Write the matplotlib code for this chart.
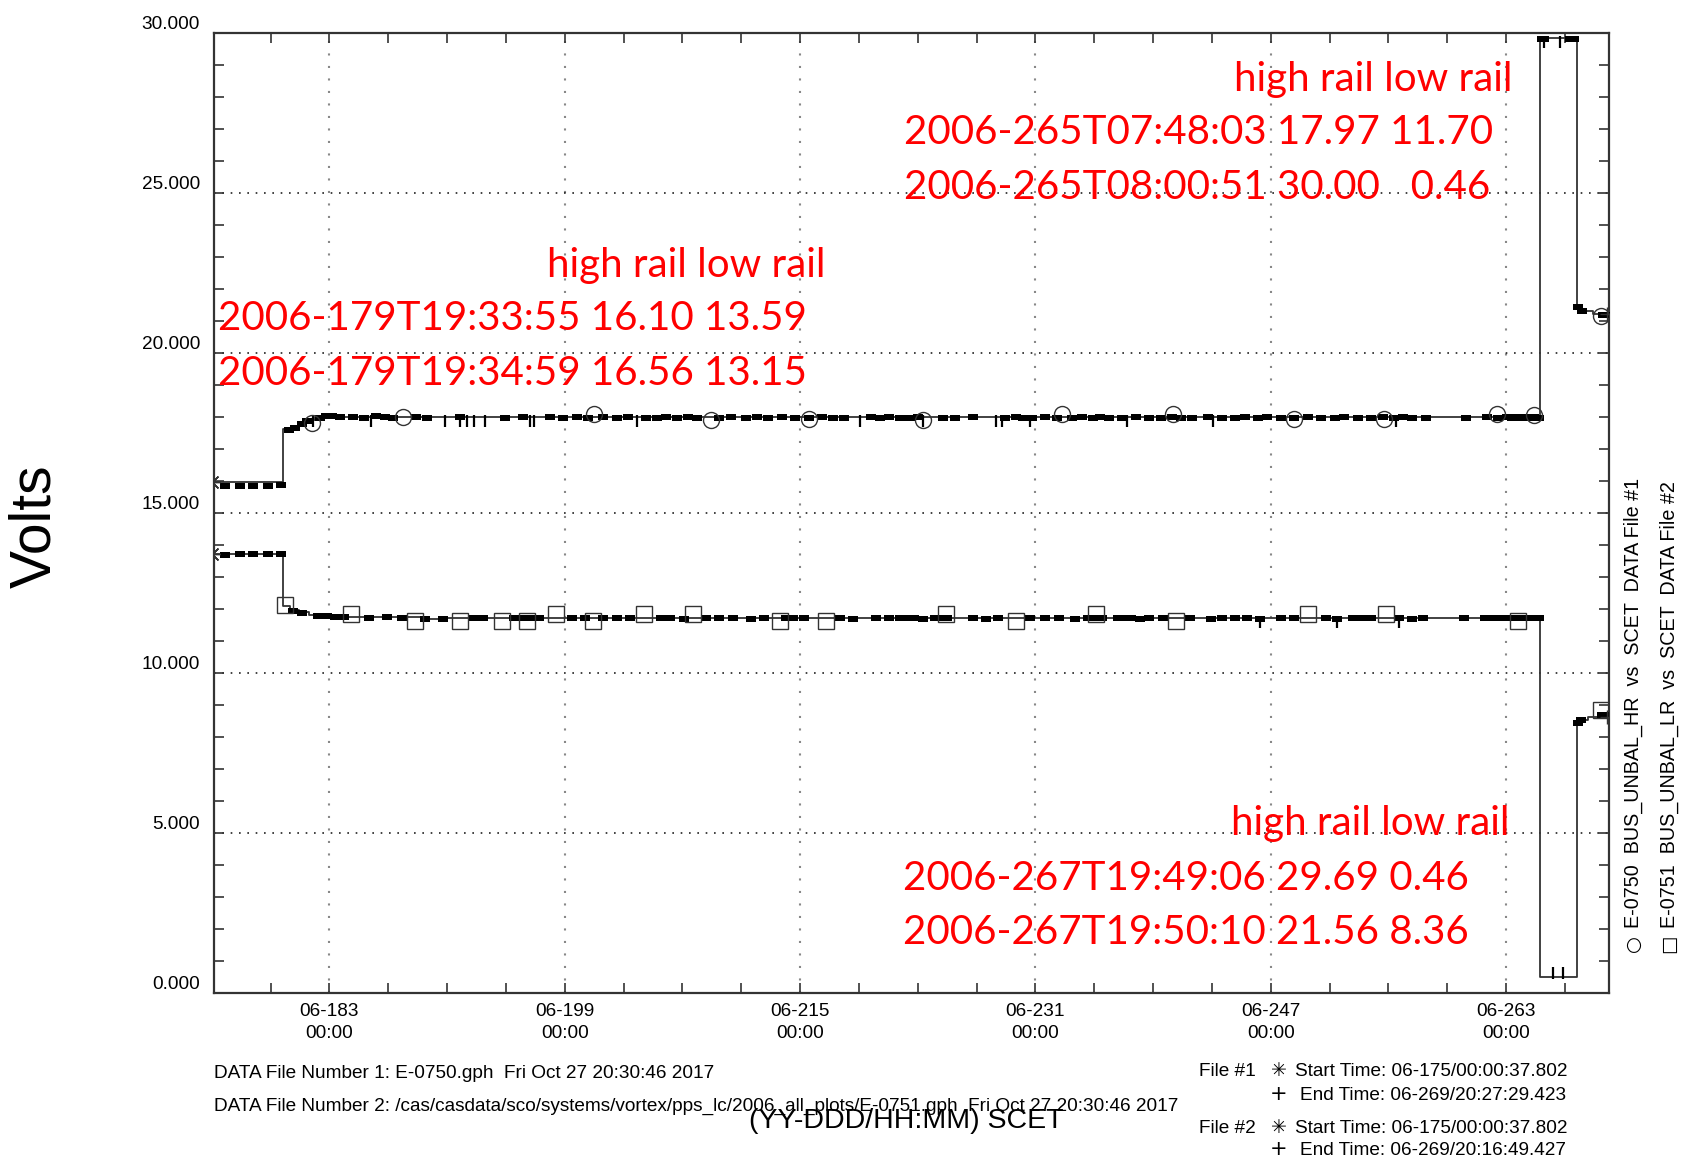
import matplotlib
matplotlib.use('Agg')
import matplotlib.pyplot as plt
from matplotlib.ticker import FixedLocator

# ---------------- data ----------------
x_tick_days = [183, 199, 215, 231, 247, 263]
x_tick_labels = ['06-183\n00:00', '06-199\n00:00', '06-215\n00:00',
                 '06-231\n00:00', '06-247\n00:00', '06-263\n00:00']
y_tick_vals = [0, 5, 10, 15, 20, 25, 30]
y_tick_labels = ['0.000', '5.000', '10.000', '15.000', '20.000', '25.000', '30.000']

# high rail (E-0750 BUS_UNBAL_HR) step line break points
hr_line_days = [175.00, 179.81, 180.40, 180.95, 181.45, 182.00, 265.325, 267.826, 268.10, 268.90, 269.85]
hr_line_volts = [15.96, 17.62, 17.72, 17.82, 17.92, 18.00, 29.85, 21.48, 21.32, 21.22, 21.22]

# high rail sample dashes
hr_dash_days = [175.90, 176.90, 177.80, 178.80, 179.70,
                180.22, 180.68, 181.13, 181.50,
                182.35, 182.74, 183.16, 183.71, 184.62, 185.38, 186.14, 186.75, 187.35, 188.87,
                189.63, 191.90, 194.94, 196.15, 197.98, 198.90, 199.80, 200.55, 201.62, 202.53,
                203.29, 204.50, 205.26, 205.87, 206.63, 207.38, 207.99, 209.51, 210.27, 211.33,
                212.09, 212.85, 213.76, 214.67, 215.58, 216.49, 217.25, 218.00, 219.83, 220.43,
                221.04, 221.80, 222.44, 223.05, 224.74, 225.51, 226.75, 228.90, 229.67, 230.13,
                230.75, 231.67, 232.44, 233.52, 234.14, 234.90, 235.37, 235.98, 236.91, 237.83,
                238.75, 239.52, 240.29, 240.91, 241.68, 242.76, 243.68, 244.60, 245.22, 246.14,
                246.76, 247.68, 248.60, 249.53, 250.45, 251.38, 251.99, 252.92, 253.84, 254.61,
                255.38, 256.00, 256.61, 257.53, 260.30, 261.69, 262.46, 263.08, 263.40, 263.69,
                264.00, 264.31, 264.60, 264.92, 265.23,
                265.45, 265.58, 267.35, 267.50, 267.65,
                267.88, 268.16, 269.60, 269.75]
hr_dash_volts = [15.84, 15.84, 15.84, 15.84, 15.86,
                 17.60, 17.66, 17.78, 17.88,
                 17.98, 18.02, 18.02, 18.00, 18.00, 17.98, 18.02, 18.00, 17.98, 18.00,
                 17.98, 18.00, 17.98, 18.00, 18.00, 17.98, 18.00, 17.98, 18.00, 17.98,
                 18.00, 17.98, 17.98, 18.00, 17.98, 18.00, 17.98, 17.98, 18.00, 17.98,
                 18.00, 17.98, 18.00, 17.98, 17.98, 18.00, 17.98, 17.98, 18.00, 17.98,
                 18.00, 17.98, 17.98, 18.00, 17.98, 17.98, 18.00, 17.98, 18.00, 17.98,
                 17.98, 18.00, 17.98, 17.98, 18.00, 17.98, 18.00, 17.98, 17.98, 18.00,
                 17.98, 17.98, 18.00, 17.98, 17.98, 18.00, 17.98, 17.98, 18.00, 17.98,
                 18.00, 17.98, 17.98, 18.00, 17.98, 17.98, 18.00, 17.98, 17.98, 18.00,
                 17.98, 18.00, 17.98, 17.98, 17.98, 18.00, 17.98, 18.00, 17.98, 18.00,
                 17.98, 18.00, 17.98, 18.00, 17.98,
                 29.82, 29.82, 29.80, 29.82, 29.82,
                 21.45, 21.30, 21.20, 21.20]

# high rail vertical tick samples
hr_tick_days = [181.89, 185.84, 190.84, 191.90, 192.36, 192.82, 193.57, 196.61, 196.91,
                203.89, 219.07, 223.36, 228.29, 228.75, 230.60, 237.21, 243.06, 255.53,
                265.60, 266.70]
hr_tick_volts = [17.86, 17.86, 17.86, 17.86, 17.86, 17.86, 17.86, 17.86, 17.86,
                 17.86, 17.86, 17.86, 17.86, 17.86, 17.86, 17.86, 17.86, 17.86,
                 29.72, 29.72]

# high rail open-circle symbols
hr_sym_days = [181.78, 187.98, 200.96, 208.91, 215.62, 223.35, 232.83, 240.34, 248.58,
               254.71, 262.37, 264.92, 269.44]
hr_sym_volts = [17.80, 18.00, 18.10, 17.92, 17.95, 17.92, 18.08, 18.08, 17.93,
                17.93, 18.08, 18.06, 21.15]

# low rail (E-0751 BUS_UNBAL_LR) step line break points
lr_line_days = [175.00, 179.81, 180.35, 180.90, 181.60, 182.40, 189.60, 190.80, 265.325,
                267.826, 268.05, 268.60, 269.84]
lr_line_volts = [13.73, 12.10, 11.98, 11.90, 11.82, 11.76, 11.68, 11.72, 0.50,
                 8.36, 8.52, 8.62, 8.62]

# low rail sample dashes
lr_dash_days = [175.90, 176.90, 177.80, 178.80, 179.70,
                180.52, 181.13, 182.20, 182.50, 182.80, 183.41, 184.00, 185.68, 186.90, 187.96,
                189.48, 190.69, 192.82, 193.42, 195.55, 195.90, 196.30, 196.70, 197.22, 199.49,
                200.40, 201.62, 202.53, 203.44, 205.56, 206.17, 207.08, 208.60, 209.51, 210.42,
                211.63, 212.54, 214.06, 214.50, 215.27, 217.70, 218.61, 220.13, 221.04, 221.80,
                222.13, 222.74, 223.36, 224.20, 224.60, 225.00, 226.75, 227.67, 228.44, 230.60,
                231.67, 232.60, 233.67, 234.60, 235.06, 235.50, 236.60, 237.00, 237.50, 238.10,
                238.75, 239.68, 241.52, 242.91, 243.68, 244.60, 245.37, 246.30, 247.68, 248.60,
                250.76, 251.53, 252.61, 253.20, 253.84, 255.69, 256.61, 257.38, 260.15, 261.54,
                262.15, 262.60, 263.00, 263.40, 263.80, 264.20, 264.60, 265.00, 265.23,
                267.92, 268.10, 269.50, 269.80]
lr_dash_volts = [13.68, 13.72, 13.72, 13.72, 13.72,
                 11.95, 11.88, 11.78, 11.78, 11.78, 11.74, 11.74, 11.72, 11.74, 11.72,
                 11.70, 11.70, 11.72, 11.72, 11.72, 11.72, 11.72, 11.72, 11.72, 11.72,
                 11.72, 11.72, 11.72, 11.72, 11.72, 11.72, 11.70, 11.72, 11.72, 11.72,
                 11.70, 11.72, 11.72, 11.72, 11.72, 11.72, 11.70, 11.72, 11.72, 11.72,
                 11.72, 11.72, 11.70, 11.72, 11.72, 11.72, 11.72, 11.70, 11.72, 11.72,
                 11.72, 11.72, 11.70, 11.72, 11.72, 11.72, 11.72, 11.72, 11.72, 11.70,
                 11.72, 11.72, 11.72, 11.70, 11.72, 11.72, 11.72, 11.70, 11.72, 11.72,
                 11.72, 11.70, 11.72, 11.72, 11.72, 11.72, 11.70, 11.72, 11.72, 11.72,
                 11.72, 11.72, 11.72, 11.72, 11.72, 11.72, 11.72, 11.72, 11.72,
                 8.45, 8.52, 8.68, 8.70]

# low rail vertical tick samples
lr_tick_days = [246.30, 251.53, 255.69, 266.20, 266.90]
lr_tick_volts = [11.60, 11.60, 11.60, 0.62, 0.62]

# low rail open-square symbols
lr_sym_days = [179.96, 184.48, 188.79, 191.85, 194.76, 196.44, 198.41, 200.89, 204.39, 207.75,
               213.65, 216.79, 224.95, 229.69, 235.09, 240.56, 249.53, 254.85, 263.82, 269.44]
lr_sym_volts = [12.12, 11.85, 11.62, 11.62, 11.62, 11.62, 11.85, 11.62, 11.85, 11.85,
                11.62, 11.62, 11.85, 11.62, 11.85, 11.62, 11.85, 11.85, 11.62, 8.85]

# start / end points
start_days = [175.00, 175.00]
start_volts = [15.96, 13.73]
end_days = [269.85, 269.84]
end_volts = [21.22, 8.62]

legend_symbols = ['\u25cb', '\u25a1']
legend_lines = ['E-0750  BUS_UNBAL_HR  vs  SCET  DATA File #1',
                'E-0751  BUS_UNBAL_LR  vs  SCET  DATA File #2']
file_lines = ['DATA File Number 1: E-0750.gph  Fri Oct 27 20:30:46 2017',
              'DATA File Number 2: /cas/casdata/sco/systems/vortex/pps_lc/2006_all_plots/E-0751.gph  Fri Oct 27 20:30:46 2017']
time_labels = ['File #1', 'File #2']
time_start = ['Start Time: 06-175/00:00:37.802', 'Start Time: 06-175/00:00:37.802']
time_end = ['End Time: 06-269/20:27:29.423', 'End Time: 06-269/20:16:49.427']

red_groups = [
    ['high rail low rail', '2006-265T07:48:03 17.97 11.70', '2006-265T08:00:51 30.00   0.46'],
    ['high rail low rail', '2006-179T19:33:55 16.10 13.59', '2006-179T19:34:59 16.56 13.15'],
    ['high rail low rail', '2006-267T19:49:06 29.69 0.46', '2006-267T19:50:10 21.56 8.36'],
]

# ---------------- figure ----------------
W, H = 1682, 1159
fig = plt.figure(figsize=(W / 100, H / 100), dpi=100)


def fx(x):
    return x / W


def fy(y):
    return 1 - y / H


BLACK_FONT = ['Liberation Sans', 'DejaVu Sans']
plt.rcParams['font.family'] = BLACK_FONT

ax = fig.add_axes([fx(214), fy(993), fx(1609) - fx(214), fy(33) - fy(993)])
ax.set_xlim(175.15, 270.0)
ax.set_ylim(0, 30)

line_col = '#333333'
dash_marker = [(-1, -0.62), (1, -0.62), (1, 0.62), (-1, 0.62), (-1, -0.62)]

for ld, lv, dd, dv, td, tv, sd, sv, smk in [
        (hr_line_days, hr_line_volts, hr_dash_days, hr_dash_volts, hr_tick_days, hr_tick_volts,
         hr_sym_days, hr_sym_volts, 'o'),
        (lr_line_days, lr_line_volts, lr_dash_days, lr_dash_volts, lr_tick_days, lr_tick_volts,
         lr_sym_days, lr_sym_volts, 's')]:
    ax.step(ld, lv, where='post', color=line_col, lw=1.3, zorder=3)
    ax.plot(dd, dv, ls='none', marker=dash_marker, ms=7.2, color='black', mew=0, zorder=4)
    ax.plot(td, tv, ls='none', marker='|', ms=8, mew=1.6, color='black', zorder=4)
    ax.plot(sd, sv, ls='none', marker=smk, ms=11.5 if smk == 'o' else 11, mfc='none',
            mec='#333333', mew=1.0, zorder=5)

ax.plot(start_days, start_volts, ls='none', marker=(8, 2, 0), ms=12, mew=1.0, color='#333333',
        zorder=5)
ax.plot(end_days, end_volts, ls='none', marker='+', ms=10, mew=1.0, color='#333333', zorder=5)

# ticks
ax.xaxis.set_major_locator(FixedLocator(x_tick_days))
ax.set_xticklabels(x_tick_labels, fontsize=13.7, linespacing=1.4)
ax.xaxis.set_minor_locator(FixedLocator([d for d in range(179, 271, 4)]))
ax.yaxis.set_major_locator(FixedLocator(y_tick_vals))
ax.set_yticklabels(y_tick_labels, fontsize=13.7)
ax.yaxis.set_minor_locator(FixedLocator(list(range(0, 31))))
for t in ax.get_yticklabels():
    t.set_verticalalignment('bottom')

ax.tick_params(axis='both', which='both', direction='in', top=True, right=True,
               color='#333333', width=1.2)
ax.tick_params(axis='both', which='major', length=7)
ax.tick_params(axis='both', which='minor', length=7)
ax.tick_params(axis='y', which='major', pad=10)
ax.tick_params(axis='x', which='major', pad=7)

ax.xaxis.grid(True, which='major', linestyle=(0, (1, 5)), color='#888888', lw=1.5)
ax.yaxis.grid(True, which='major', linestyle=(0, (1, 4)), color='#222222', lw=1.2)
ax.set_axisbelow(True)
for s in ax.spines.values():
    s.set_linewidth(1.6)
    s.set_color('#333333')

# axis titles
fig.text(fx(35), fy(526), 'Volts', rotation=90, fontsize=41, ha='center', va='center')
fig.text(fx(906), fy(1121), '(YY-DDD/HH:MM) SCET', fontsize=20.5, ha='center', va='center')

# vertical legend
for i, txt in enumerate(legend_lines):
    xc = [1633, 1669][i]
    fig.text(fx(xc), fy(944), legend_symbols[i], rotation=90, fontsize=14,
             ha='center', va='center', family=['DejaVu Sans'])
    fig.text(fx(xc), fy(928), txt, rotation=90, fontsize=14.2,
             ha='center', va='bottom', family=BLACK_FONT)

# data file lines
for i, txt in enumerate(file_lines):
    fig.text(fx(214), fy([1078, 1111][i]), txt, fontsize=13.7, va='baseline')

# start / end time block
for i in range(2):
    yb1 = [1076, 1133][i]
    yb2 = [1099.5, 1155][i]
    fig.text(fx(1256), fy(yb1), time_labels[i], fontsize=13.7, ha='right', va='baseline')
    fig.text(fx(1279), fy(yb1), '\u2733', fontsize=13.7, ha='center', va='baseline',
             family=['DejaVu Sans'])
    fig.text(fx(1295), fy(yb1), time_start[i], fontsize=13.7, ha='left', va='baseline')
    fig.text(fx(1279), fy(yb2), '+', fontsize=15, ha='center', va='baseline',
             family=['DejaVu Sans'])
    fig.text(fx(1300), fy(yb2), time_end[i], fontsize=13.7, ha='left', va='baseline')

# red annotations
red_pos = [
    (1234, 904, [91, 144, 199]),
    (547, 218, [277, 330, 385]),
    (1231, 903, [835, 890, 944]),
]
for (xh, xl, ybs), grp in zip(red_pos, red_groups):
    for j, txt in enumerate(grp):
        fig.text(fx(xh if j == 0 else xl), fy(ybs[j]), txt, fontsize=29, color='#ff0000',
                 family=['Lato', 'DejaVu Sans'], ha='left', va='baseline', zorder=10)

fig.savefig('out.png', dpi=100)
